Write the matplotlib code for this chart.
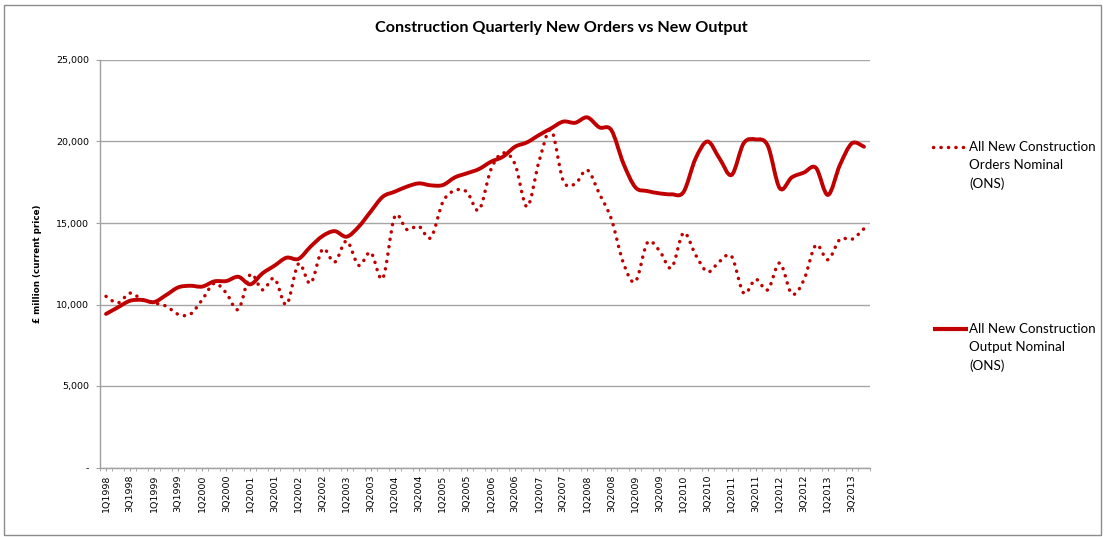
import matplotlib
matplotlib.use("Agg")
import matplotlib.pyplot as plt
from matplotlib.path import Path
from matplotlib.patches import PathPatch, Rectangle
from matplotlib.lines import Line2D
from matplotlib.ticker import FuncFormatter, FixedLocator

quarters = [f"{q}Q{y}" for y in range(1998, 2014) for q in (1, 2, 3, 4)]

orders = [10500, 10100, 10700, 10300, 10100, 9900, 9400, 9400,
          10300, 11300, 10700, 9700, 11850, 10900, 11600, 10000,
          12500, 11300, 13400, 12600, 13900, 12400, 13200, 11600,
          15400, 14600, 14800, 14100, 16300, 17000, 16900, 15800,
          18300, 19300, 18600, 16000, 18800, 20700, 17600, 17400,
          18250, 16800, 15250, 12550, 11400, 13800, 13300, 12250,
          14400, 13050, 12000, 12650, 12950, 10700, 11550, 10900,
          12550, 10650, 11500, 13650, 12750, 14000, 14000, 14650]

output = [9420, 9830, 10230, 10280, 10150, 10580, 11050, 11150,
          11100, 11420, 11440, 11700, 11240, 11910, 12380, 12870,
          12800, 13550, 14200, 14500, 14160, 14770, 15700, 16610,
          16920, 17230, 17430, 17310, 17330, 17800, 18050, 18310,
          18760, 19070, 19680, 19950, 20400, 20810, 21220, 21150,
          21480, 20870, 20700, 18660, 17190, 16960, 16820, 16760,
          16900, 18950, 20000, 18950, 17950, 19890, 20130, 19750,
          17130, 17800, 18090, 18390, 16720, 18560, 19890, 19680]

label_orders = ["All New Construction", "Orders Nominal", "(ONS)"]
label_output = ["All New Construction", "Output Nominal", "(ONS)"]
title = "Construction Quarterly New Orders vs New Output"
ylabel = "£ million (current price)"

RED = "#C00000"
W, H = 1105, 537
DOTS = (0, (0.05, 2.1))

def smooth_path(xs, ys):
    n = len(xs)
    verts = [(xs[0], ys[0])]
    codes = [Path.MOVETO]
    for i in range(n - 1):
        x0, y0 = (xs[i - 1], ys[i - 1]) if i > 0 else (xs[i], ys[i])
        x1, y1 = xs[i], ys[i]
        x2, y2 = xs[i + 1], ys[i + 1]
        x3, y3 = (xs[i + 2], ys[i + 2]) if i + 2 < n else (x2, y2)
        c1 = (x1 + (x2 - x0) / 6.0, y1 + (y2 - y0) / 6.0)
        c2 = (x2 - (x3 - x1) / 6.0, y2 - (y3 - y1) / 6.0)
        verts += [c1, c2, (x2, y2)]
        codes += [Path.CURVE4] * 3
    return Path(verts, codes)

fig = plt.figure(figsize=(W / 100, H / 100), dpi=100)
ax = fig.add_axes([100 / W, 1 - 467.5 / H, 770 / W, (467.5 - 60) / H])

xs = list(range(len(quarters)))
p1 = PathPatch(smooth_path(xs, orders), facecolor="none", edgecolor=RED,
               lw=2.5, linestyle=DOTS, capstyle="round", zorder=3)
p2 = PathPatch(smooth_path(xs, output), facecolor="none", edgecolor=RED,
               lw=2.8, capstyle="round", joinstyle="round", zorder=4)
ax.add_patch(p1)
ax.add_patch(p2)

ax.set_xlim(-0.5, len(quarters) - 0.5)
ax.set_ylim(0, 25000)
ax.set_yticks(range(0, 25001, 5000))
ax.yaxis.set_major_formatter(FuncFormatter(lambda v, p: "-" if v == 0 else f"{int(v):,}"))
ax.set_xticks(xs[::2])
ax.set_xticklabels(quarters[::2], rotation=90, fontsize=6.8, family="DejaVu Sans")
ax.xaxis.set_minor_locator(FixedLocator([i - 0.5 for i in range(len(quarters) + 1)]))
ax.tick_params(axis="x", which="both", length=2, color="#a0a0a0", pad=3)
ax.tick_params(axis="y", labelsize=6.8, length=3, color="#a0a0a0", pad=5)
ax.grid(axis="y", color="#a6a6a6", lw=1.0)
ax.set_axisbelow(True)
for s in ("top", "right"):
    ax.spines[s].set_visible(False)
for s in ("left", "bottom"):
    ax.spines[s].set_color("#a0a0a0")
    ax.spines[s].set_linewidth(1.0)

fig.text(561 / W, 1 - 28 / H, title, ha="center", va="center",
         fontsize=11.6, fontweight="bold", family="Lato")
fig.text(38 / W, 1 - 264 / H, ylabel, rotation=90, ha="center", va="center",
         fontsize=6.3, fontweight="bold", family="DejaVu Sans")

# legend entries (handles drawn through the library, text as real text)
def legend_entry(y0, handle_kw, lines, x_end):
    fig.add_artist(Line2D([933 / W, x_end / W], [1 - y0 / H, 1 - y0 / H],
                          transform=fig.transFigure, color=RED, **handle_kw))
    for k, t in enumerate(lines):
        fig.text(969 / W, 1 - (y0 + 18.3 * k) / H, t, ha="left", va="center",
                 fontsize=9.6, family="Lato")

legend_entry(147, dict(lw=2.5, linestyle=DOTS, dash_capstyle="round"), label_orders, 964)
legend_entry(329, dict(lw=3.0, solid_capstyle="butt"), label_output, 968)

fig.patches.append(Rectangle((4 / W, 2 / H), 1097 / W, 530 / H,
                             transform=fig.transFigure, fill=False,
                             edgecolor="#8c8c8c", lw=1.0))

fig.savefig("out.png", dpi=100)
